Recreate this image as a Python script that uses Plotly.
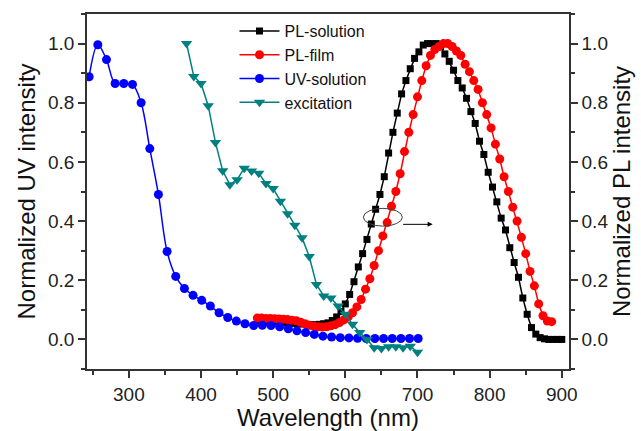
import plotly.graph_objects as go

# ---------------- data ----------------
pl_sol_wl = list(range(480, 901, 6))
pl_sol = [0.060, 0.060, 0.060, 0.060, 0.060, 0.058, 0.056, 0.055, 0.054, 0.053,
          0.052, 0.051, 0.050, 0.050, 0.051, 0.053, 0.056, 0.064, 0.076, 0.094,
          0.120, 0.152, 0.195, 0.245, 0.290, 0.338, 0.390, 0.440, 0.490, 0.550,
          0.630, 0.700, 0.765, 0.830, 0.875, 0.915, 0.950, 0.972, 0.995, 1.000,
          1.000, 1.000, 0.990, 0.965, 0.940, 0.910, 0.875, 0.850, 0.815, 0.770,
          0.730, 0.670, 0.625, 0.565, 0.515, 0.465, 0.410, 0.370, 0.310, 0.260,
          0.210, 0.140, 0.085, 0.040, 0.018, 0.006, 0.002, 0.000, 0.000, 0.000,
          0.000]

pl_film_wl = list(range(478, 887, 6))
pl_film = [0.072, 0.072, 0.071, 0.071, 0.070, 0.069, 0.068, 0.067, 0.065, 0.063,
           0.058, 0.053, 0.048, 0.045, 0.043, 0.042, 0.043, 0.046, 0.050, 0.057,
           0.066, 0.076, 0.090, 0.110, 0.135, 0.170, 0.205, 0.250, 0.300, 0.350,
           0.395, 0.450, 0.500, 0.560, 0.635, 0.700, 0.760, 0.820, 0.875, 0.925,
           0.960, 0.980, 0.990, 1.000, 1.000, 0.990, 0.975, 0.960, 0.930, 0.905,
           0.875, 0.845, 0.800, 0.760, 0.715, 0.660, 0.610, 0.550, 0.500, 0.447,
           0.400, 0.345, 0.290, 0.230, 0.181, 0.120, 0.080, 0.062, 0.060]

uv_wl = list(range(245, 702, 12))
uv_sol = [0.888, 0.996, 0.946, 0.865, 0.865, 0.862, 0.800, 0.645, 0.490, 0.297,
          0.213, 0.172, 0.149, 0.132, 0.113, 0.090, 0.074, 0.062, 0.053, 0.047,
          0.048, 0.047, 0.043, 0.036, 0.029, 0.023, 0.017, 0.011, 0.008, 0.006,
          0.005, 0.004, 0.003, 0.003, 0.003, 0.003, 0.003, 0.003, 0.003]

exc_wl = list(range(380, 701, 10))
exc = [1.000, 0.889, 0.865, 0.790, 0.666, 0.570, 0.523, 0.540, 0.579, 0.569,
       0.562, 0.527, 0.510, 0.467, 0.425, 0.386, 0.344, 0.280, 0.186, 0.147,
       0.140, 0.113, 0.085, 0.051, 0.023, 0.000, -0.028, -0.031, -0.025, -0.025,
       -0.028, -0.023, -0.043]

x_ticks = [300, 400, 500, 600, 700, 800, 900]
y_ticks = [0.0, 0.2, 0.4, 0.6, 0.8, 1.0]

FONT = "Liberation Sans, Arial, sans-serif"

fig = go.Figure()
fig.add_trace(go.Scatter(x=pl_sol_wl, y=pl_sol, name="PL-solution", mode="lines+markers",
                         line=dict(color="#000000", width=1.5),
                         marker=dict(symbol="square", size=7, color="#000000")))
fig.add_trace(go.Scatter(x=pl_film_wl, y=pl_film, name="PL-film", mode="lines+markers",
                         line=dict(color="#ff0000", width=1.5),
                         marker=dict(symbol="circle", size=9, color="#ff0000")))
fig.add_trace(go.Scatter(x=uv_wl, y=uv_sol, name="UV-solution", mode="lines+markers",
                         line=dict(color="#0000ff", width=1.5, shape="spline", smoothing=1),
                         marker=dict(symbol="circle", size=9, color="#0000ff")))
fig.add_trace(go.Scatter(x=exc_wl, y=exc, name="excitation", mode="lines+markers",
                         line=dict(color="#008080", width=1.5),
                         marker=dict(symbol="triangle-down", size=10, color="#008080")))
# dummy trace to carry the right axis
fig.add_trace(go.Scatter(x=[], y=[], yaxis="y2", showlegend=False, hoverinfo="skip"))

fig.add_shape(type="circle", xref="x", yref="y", x0=625, x1=679, y0=0.383, y1=0.443,
              line=dict(color="#404040", width=1))
fig.add_annotation(x=721, y=0.389, ax=678, ay=0.389, xref="x", yref="y",
                   axref="x", ayref="y", text="", showarrow=True,
                   arrowhead=2, arrowsize=1, arrowwidth=1, arrowcolor="#000000")

axis_common = dict(showline=True, linecolor="#333333", linewidth=1.5,
                   ticks="outside", ticklen=7, tickwidth=1.5, tickcolor="#333333",
                   showgrid=False, zeroline=False, automargin=False,
                   tickfont=dict(family=FONT, size=19, color="#222222"))

fig.update_layout(
    width=641, height=431,
    margin=dict(l=87, r=72, t=14, b=62),
    paper_bgcolor="white", plot_bgcolor="white",
    font=dict(family=FONT),
    showlegend=True,
    legend=dict(x=0.306, y=1.0, xanchor="left", yanchor="top",
                bgcolor="rgba(0,0,0,0)", font=dict(family=FONT, size=16, color="#111111"),
                itemwidth=40, tracegroupgap=0),
    xaxis=dict(range=[242, 910], tickvals=x_ticks, mirror=True,
               minor=dict(dtick=50, tick0=250, ticks="outside", ticklen=4, tickwidth=1.5,
                          tickcolor="#333333"),
               title=dict(text="Wavelength (nm)", font=dict(family=FONT, size=24, color="#111111"),
                          standoff=2),
               **axis_common),
    yaxis=dict(range=[-0.1, 1.1], tickvals=y_ticks, tickformat=".1f",
               minor=dict(dtick=0.1, tick0=0, ticks="outside", ticklen=4, tickwidth=1.5,
                          tickcolor="#333333"),
               title=dict(text="Normalized UV intensity", font=dict(family=FONT, size=24, color="#111111"),
                          standoff=6),
               **axis_common),
    yaxis2=dict(range=[-0.1, 1.1], tickvals=y_ticks, tickformat=".1f", overlaying="y",
                side="right",
                minor=dict(dtick=0.1, tick0=0, ticks="outside", ticklen=4, tickwidth=1.5,
                           tickcolor="#333333"),
                title=dict(text="Normalized PL intensity", font=dict(family=FONT, size=24, color="#111111"),
                           standoff=6),
                **axis_common),
)

fig.write_html("out.html", config={"displayModeBar": False},
               post_script="document.body.style.margin='0';document.body.style.overflow='hidden';")
